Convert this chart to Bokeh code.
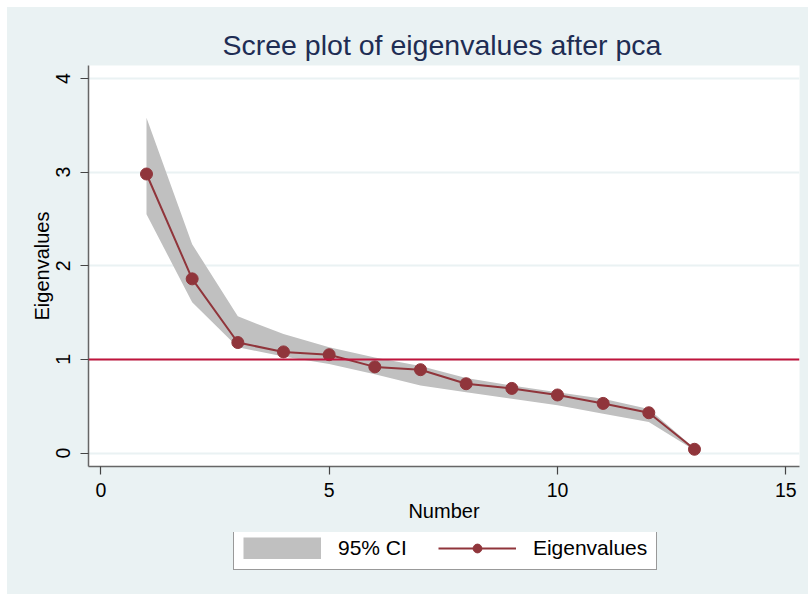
from bokeh.plotting import figure
from bokeh.layouts import column, row
from bokeh.models import (Range1d, FixedTicker, Span, Legend, LegendItem,
                          ColumnDataSource, Spacer)
from bokeh.embed import file_html
from bokeh.resources import INLINE

# ---- data ----
number = [1, 2, 3, 4, 5, 6, 7, 8, 9, 10, 11, 12, 13]
eigenvalues = [2.98, 1.86, 1.18, 1.08, 1.05, 0.92, 0.89, 0.74, 0.69, 0.62, 0.53, 0.43, 0.04]
ci_upper = [3.58, 2.23, 1.46, 1.27, 1.13, 1.02, 0.93, 0.80, 0.72, 0.65, 0.58, 0.47, 0.05]
ci_lower = [2.55, 1.61, 1.13, 1.03, 0.95, 0.84, 0.72, 0.65, 0.58, 0.51, 0.42, 0.33, 0.03]
x_ticks = [0, 5, 10, 15]
y_ticks = [0, 1, 2, 3, 4]
ref_line = 1
legend_labels = ["95% CI", "Eigenvalues"]

FONT = "Liberation Sans"
BG = "#EAF2F3"
CI_COLOR = "#C0C0C0"
EIG_COLOR = "#90353B"

src = ColumnDataSource(dict(x=number, y=eigenvalues, lo=ci_lower, hi=ci_upper))

p = figure(width=801, height=525, output_backend="svg", toolbar_location=None,
           x_range=Range1d(-0.27, 15.30), y_range=Range1d(-0.144, 4.139),
           background_fill_color="white", border_fill_color=BG,
           min_border_left=81, min_border_right=9, min_border_top=58,
           min_border_bottom=66)
p.outline_line_color = None

p.title.text = "Scree plot of eigenvalues after pca"
p.title.align = "left"
p.title.offset = 134
p.title.text_font = FONT
p.title.text_font_size = "28.5px"
p.title.text_font_style = "normal"
p.title.text_color = "#1E2D54"
p.title.standoff = 9

# grid
p.xgrid.visible = False
p.ygrid.ticker = FixedTicker(ticks=y_ticks)
p.ygrid.grid_line_color = BG
p.ygrid.grid_line_width = 2

# axes
p.xaxis.ticker = FixedTicker(ticks=x_ticks)
p.yaxis.ticker = FixedTicker(ticks=y_ticks)
p.xaxis.axis_label = "Number"
p.yaxis.axis_label = "Eigenvalues"
for ax in (p.xaxis[0], p.yaxis[0]):
    ax.axis_line_color = "#666666"
    ax.axis_line_width = 1.5
    ax.major_tick_line_color = "#444444"
    ax.major_tick_line_width = 1.2
    ax.major_tick_out = 8
    ax.major_tick_in = 0
    ax.minor_tick_out = 0
    ax.minor_tick_in = 0
    ax.major_label_text_font = FONT
    ax.major_label_text_font_size = "19.5px"
    ax.major_label_text_color = "black"
    ax.axis_label_text_font = FONT
    ax.axis_label_text_font_size = "20px"
    ax.axis_label_text_font_style = "normal"
    ax.axis_label_text_color = "black"
p.yaxis.major_label_orientation = "vertical"
p.xaxis.major_label_standoff = 8
p.yaxis.major_label_standoff = 10
p.xaxis.axis_label_standoff = 0
p.yaxis.axis_label_standoff = 1

# CI band
band = p.varea(x="x", y1="lo", y2="hi", source=src, fill_color=CI_COLOR, fill_alpha=1)

# reference line
p.add_layout(Span(location=ref_line, dimension="width", line_color="#C0143C", line_width=2))

# eigenvalue line + markers
ln = p.line(x="x", y="y", source=src, line_color=EIG_COLOR, line_width=2)
sc = p.scatter(x="x", y="y", source=src, size=12, fill_color=EIG_COLOR, line_color=EIG_COLOR)

# ---- legend strip below the plot (its key glyphs use the same data, kept out of view) ----
lf = figure(width=801, height=62, output_backend="svg", toolbar_location=None,
            x_range=Range1d(100, 101), y_range=Range1d(100, 101),
            x_axis_type=None, y_axis_type=None,
            background_fill_alpha=0, border_fill_alpha=0,
            min_border=0)
lf.outline_line_color = None
lf.xgrid.visible = False
lf.ygrid.visible = False
k_band = lf.varea(x="x", y1="lo", y2="hi", source=src, fill_color=CI_COLOR, fill_alpha=1)
k_block = lf.line(x="x", y="y", source=src, line_color=CI_COLOR, line_width=22, line_cap="butt")
k_line = lf.line(x="x", y="y", source=src, line_color=EIG_COLOR, line_width=2)
k_pts = lf.scatter(x="x", y="y", source=src, size=12, fill_color=EIG_COLOR, line_color=EIG_COLOR)

legend = Legend(items=[LegendItem(label=legend_labels[0], renderers=[k_band, k_block]),
                       LegendItem(label=legend_labels[1], renderers=[k_line, k_pts])],
                orientation="horizontal", location=(145, 24),
                glyph_width=78, glyph_height=22, label_standoff=17, spacing=31,
                padding=9, margin=0,
                border_line_color="#333333", border_line_width=1,
                background_fill_color="white", background_fill_alpha=1,
                label_text_font=FONT, label_text_font_size="21px",
                label_text_color="black")
lf.add_layout(legend, "center")

inner = column(p, lf, spacing=0, styles={"background-color": BG})
layout = column(Spacer(width=808, height=7),
                row(Spacer(width=7, height=587), inner, spacing=0),
                spacing=0)

open("out.html", "w").write(file_html(layout, INLINE))
